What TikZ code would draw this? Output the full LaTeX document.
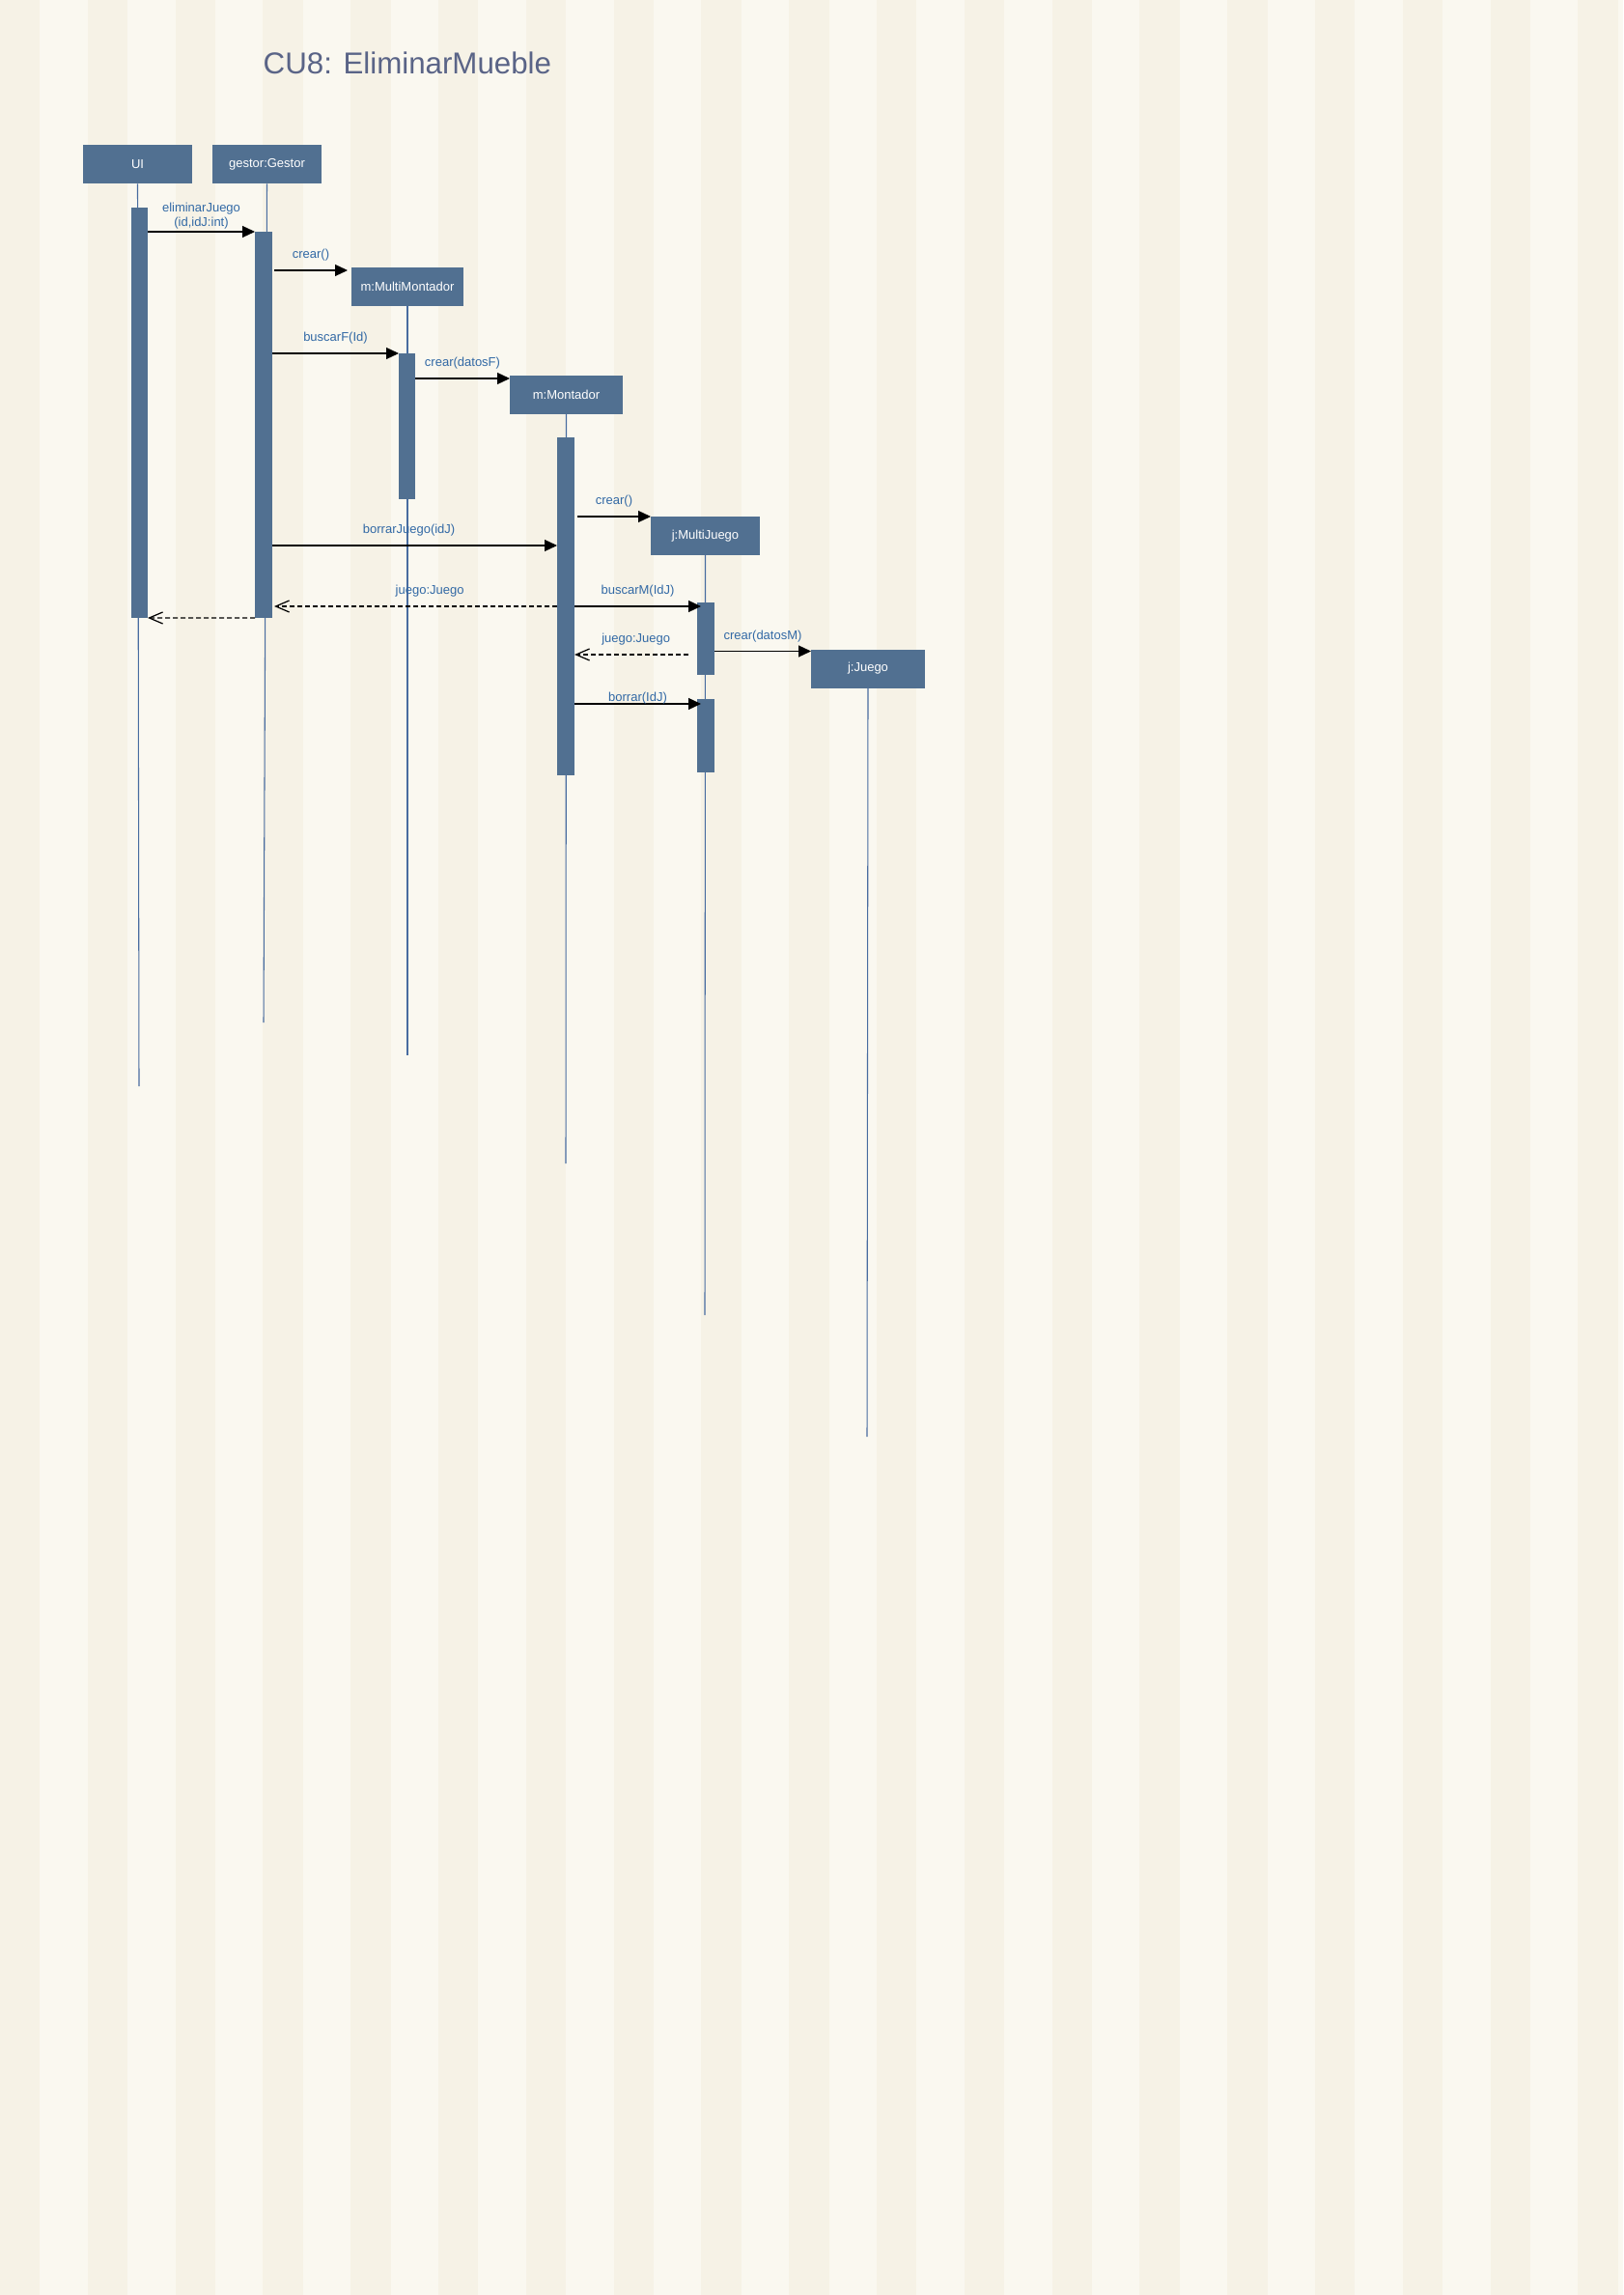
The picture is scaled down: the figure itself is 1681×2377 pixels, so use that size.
\documentclass[tikz,border=0pt]{standalone}
\usepackage{fontspec}
\setmainfont{Liberation Sans}
\usetikzlibrary{arrows.meta, calc}

\definecolor{fondoA}{RGB}{250,248,240}
\definecolor{fondoB}{RGB}{246,242,230}
\definecolor{caja}{RGB}{81,112,145}
\definecolor{linea}{RGB}{72,108,160}
\definecolor{etiq}{RGB}{50,105,165}
\definecolor{titulo}{RGB}{90,100,135}

\begin{document}
\begin{tikzpicture}[x=0.1mm, y=-0.1mm,
    objeto/.style={fill=caja, text=white, font=\fontsize{3.7pt}{4.3pt}\selectfont, inner sep=0pt, outer sep=0pt, minimum height=4mm},
    activ/.style={fill=caja, inner sep=0pt, outer sep=0pt, anchor=north},
    vida/.style={draw=linea, line width=0.3pt},
    msg/.style={line width=0.35pt, -{Triangle[length=1.3mm, width=1.2mm]}},
    ret/.style={line width=0.35pt, dash pattern=on 0.5mm off 0.3mm, -{Straight Barb[length=1.4mm, width=1.2mm]}},
    etiqueta/.style={font=\fontsize{3.7pt}{4.3pt}\selectfont, text=etiq, inner sep=0pt, align=center, anchor=south, yshift=#1},
    etiqueta/.default=0.9mm]
    \useasboundingbox (0,0) rectangle (1681,2377);

    % Fondo a rayas
    \fill[fondoA] (0,0) rectangle (1681,2377);
    \foreach \i in {0,...,18}
        \fill[fondoB] (\i*90.8,0) rectangle (\i*90.8+41.4,2377);

    % Titulo
    \node[anchor=base west, font=\fontsize{8.9pt}{11pt}\selectfont, text=titulo, inner sep=0pt] (tit) at (272,77) {CU8: EliminarMueble};

    % Objetos
    \node[objeto, minimum width=11.3mm] (ui) at (142.5,170.5) {UI};
    \node[objeto, minimum width=11.3mm] (ges) at (276.5,170.5) {gestor:Gestor};
    \node[objeto, minimum width=11.6mm] (mm) at (422,297) {m:MultiMontador};
    \node[objeto, minimum width=11.7mm] (mo) at (586.5,409) {m:Montador};
    \node[objeto, minimum width=11.3mm] (mj) at (730.5,555) {j:MultiJuego};
    \node[objeto, minimum width=11.8mm] (jj) at (899,692.5) {j:Juego};

    % Lineas de vida
    \foreach \o/\x/\f in {ui/144/1125, ges/273/1059, mm/422/1093, mo/586/1205, mj/730/1362, jj/898/1488}
        \draw[vida] (\o.south) -- (\x,\f);

    % Activaciones
    \node[activ, minimum width=1.7mm, minimum height=42.5mm] (uiA) at (144.5,215) {};
    \node[activ, minimum width=1.8mm, minimum height=40mm] (gesA) at (273,240) {};
    \node[activ, minimum width=1.7mm, minimum height=15.1mm] (mmA) at (421.5,366) {};
    \node[activ, minimum width=1.8mm, minimum height=35mm] (moA) at (586,453) {};
    \node[activ, minimum width=1.8mm, minimum height=7.5mm] (mjA) at (731,624) {};
    \node[activ, minimum width=1.8mm, minimum height=7.6mm] (mjB) at (731,724) {};

    % Filas de mensajes
    \coordinate (f1) at (0,565);
    \coordinate (f2) at (0,628);
    \coordinate (f3) at (0,678);
    \coordinate (f4) at (0,729);

    % Mensajes
    \draw[msg] (uiA.east |- gesA.north) -- node[etiqueta=0.2mm] {eliminarJuego\\(id,idJ:int)} (gesA.north west);
    \draw[msg] ($(gesA.east |- mm.north)+(2,3)$) -- node[etiqueta] {crear()} ($(mm.north west)+(-4,3)$);
    \draw[msg] (gesA.east |- mmA.north) -- node[etiqueta] {buscarF(Id)} (mmA.north west);
    \draw[msg] ($(mmA.east |- mo.north)+(0,3)$) -- node[etiqueta] {crear(datosF)} ($(mo.north west)+(0,3)$);
    \draw[msg] ($(moA.east |- mj.north)+(3,0)$) -- node[etiqueta] {crear()} (mj.north west);
    \draw[msg] (gesA.east |- f1) -- node[etiqueta, pos=0.48] {borrarJuego(idJ)} (moA.west |- f1);
    \draw[msg] (moA.east |- f2) -- node[etiqueta] {buscarM(IdJ)} ($(mjA.west |- f2)+(4,0)$);
    \draw[msg] ($(mjA.east |- jj.north)+(0,2)$) -- node[etiqueta] {crear(datosM)} ($(jj.north west)+(0,2)$);
    \draw[msg] (moA.east |- f4) -- node[etiqueta=-0.1mm] {borrar(IdJ)} ($(mjB.west |- f4)+(4,0)$);

    % Retornos
    \draw[ret] (moA.west |- f2) -- node[etiqueta, pos=0.45] {juego:Juego} ($(gesA.east |- f2)+(2,0)$);
    \draw[ret] ($(mjA.west |- f3)+(-9,0)$) -- node[etiqueta, pos=0.46] {juego:Juego} (moA.east |- f3);
    \draw[ret] (gesA.south west) -- (uiA.south east);
\end{tikzpicture}
\end{document}
